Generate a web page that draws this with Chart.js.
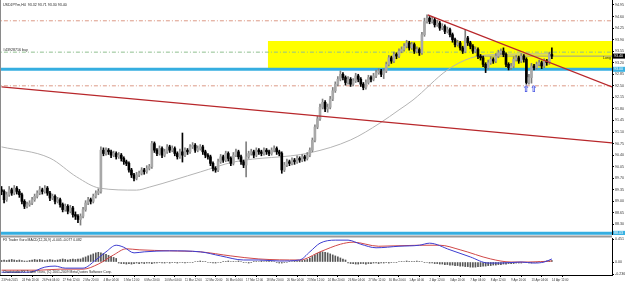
<!DOCTYPE html>
<html>
<head>
<meta charset="utf-8">
<title>USDJPYm,H4</title>
<script src="https://cdn.jsdelivr.net/npm/chart.js"></script>
<style>
  body { margin: 0; background: #fff; }
  #wrap { position: relative; width: 625px; height: 283px; overflow: hidden; }
  canvas { position: absolute; left: 0; }
  #priceChart { top: 0; }
  #macdChart { top: 235px; }
</style>
</head>
<body>
<div id="wrap">
  <canvas id="priceChart" width="625" height="235"></canvas>
  <canvas id="macdChart" width="625" height="48"></canvas>
</div>
<script>
// H4 bars, 23 Feb - 14 Apr
const opens = [
  89.35, 89.30, 89.05, 89.20, 89.35, 89.25, 89.40, 89.30, 89.20, 89.00,
  88.85, 88.90, 88.95, 89.05, 89.15, 89.25, 89.35, 89.30, 89.40, 89.25,
  89.10, 89.15, 89.00, 89.05, 88.90, 88.75, 88.85, 88.70, 88.80, 88.60,
  88.55, 88.45, 88.55, 88.75, 88.95, 89.05, 89.00, 89.15, 89.25, 89.30,
  90.55, 90.45, 90.55, 90.50, 90.40, 90.45, 90.35, 90.40, 90.30, 90.20,
  90.15, 89.95, 89.80, 89.70, 89.80, 89.85, 89.95, 89.90, 90.00, 90.05,
  90.75, 90.55, 90.45, 90.60, 90.40, 90.50, 90.65, 90.55, 90.60, 90.45,
  90.35, 90.50, 90.40, 90.55, 90.50, 90.65, 90.70, 90.55, 90.60, 90.65,
  90.50, 90.40, 90.35, 90.15, 90.00, 89.95, 90.20, 90.35, 90.25, 90.45,
  90.30, 90.15, 90.40, 90.50, 90.35, 90.20, 90.10, 90.35, 90.45, 90.50,
  90.40, 90.55, 90.50, 90.45, 90.55, 90.50, 90.45, 90.55, 90.60, 90.50,
  90.45, 89.95, 90.10, 90.20, 90.15, 90.25, 90.20, 90.30, 90.25, 90.35,
  90.30, 90.40, 90.55, 90.85, 91.25, 91.50, 91.85, 92.00, 91.80, 91.85,
  92.10, 92.35, 92.55, 92.70, 92.85, 92.75, 92.60, 92.70, 92.55, 92.65,
  92.80, 92.70, 92.55, 92.45, 92.60, 92.75, 92.70, 92.80, 92.90, 92.95,
  92.85, 92.95, 93.15, 93.35, 93.25, 93.45, 93.40, 93.55, 93.60, 93.70,
  93.80, 93.65, 93.75, 93.55, 93.60, 93.50, 94.05, 94.45, 94.55, 94.45,
  94.50, 94.35, 94.40, 94.25, 94.30, 94.15, 94.20, 94.05, 93.90, 93.75,
  93.80, 93.65, 93.55, 93.95, 93.80, 93.70, 93.55, 93.60, 93.40, 93.35,
  93.15, 93.05, 93.20, 93.30, 93.25, 93.40, 93.50, 93.55, 93.45, 93.15,
  93.05, 93.10, 93.30, 93.35, 93.25, 93.40, 93.30, 92.60, 92.75, 93.10,
  93.05, 93.15, 93.20, 93.10, 93.25, 93.20, 93.45
];
const highs = [
  89.45, 89.35, 89.28, 89.45, 89.40, 89.48, 89.45, 89.36, 89.25, 89.05,
  88.98, 89.02, 89.12, 89.22, 89.32, 89.45, 89.40, 89.48, 89.45, 89.30,
  89.22, 89.20, 89.12, 89.10, 88.95, 88.92, 88.90, 88.88, 88.85, 88.68,
  88.60, 88.62, 88.82, 89.02, 89.12, 89.10, 89.22, 89.32, 89.38, 90.65,
  90.62, 90.62, 90.60, 90.55, 90.52, 90.50, 90.48, 90.45, 90.35, 90.25,
  90.20, 90.00, 89.85, 89.88, 89.92, 90.02, 90.00, 90.08, 90.12, 90.82,
  90.80, 90.60, 90.68, 90.65, 90.58, 90.72, 90.70, 90.68, 90.65, 90.50,
  90.58, 91.07, 90.62, 90.60, 90.72, 90.78, 90.75, 90.68, 90.72, 90.70,
  90.55, 90.45, 90.40, 90.20, 90.05, 90.28, 90.42, 90.40, 90.52, 90.50,
  90.35, 90.48, 90.58, 90.55, 90.40, 90.25, 90.80, 90.52, 90.58, 90.55,
  90.62, 90.60, 90.55, 90.62, 90.60, 90.55, 90.62, 90.68, 90.65, 90.55,
  90.50, 90.18, 90.28, 90.25, 90.32, 90.30, 90.38, 90.35, 90.42, 90.40,
  90.48, 90.62, 90.92, 91.32, 91.58, 91.95, 92.10, 92.05, 91.95, 92.18,
  92.45, 92.62, 92.78, 92.95, 92.90, 92.80, 92.78, 92.75, 92.72, 92.88,
  92.85, 92.75, 92.60, 92.68, 92.82, 92.80, 92.88, 92.98, 93.02, 93.00,
  93.02, 93.22, 93.42, 93.40, 93.52, 93.50, 93.62, 93.68, 93.78, 93.88,
  93.85, 93.82, 93.80, 93.68, 93.65, 94.12, 94.55, 94.65, 94.60, 94.58,
  94.55, 94.48, 94.45, 94.38, 94.35, 94.28, 94.25, 94.10, 93.95, 93.88,
  93.85, 93.70, 94.20, 94.00, 93.85, 93.75, 93.68, 93.65, 93.45, 93.40,
  93.20, 93.28, 93.38, 93.35, 93.48, 93.58, 93.62, 93.65, 93.50, 93.20,
  93.18, 93.38, 93.42, 93.40, 93.48, 93.45, 93.35, 92.85, 93.18, 93.15,
  93.22, 93.28, 93.25, 93.32, 93.30, 93.52, 93.65
];
const lows = [
  89.20, 88.95, 89.00, 89.15, 89.18, 89.20, 89.22, 89.12, 88.92, 88.78,
  88.80, 88.85, 88.90, 89.00, 89.10, 89.20, 89.22, 89.25, 89.18, 89.02,
  89.05, 88.92, 88.95, 88.82, 88.68, 88.70, 88.62, 88.65, 88.52, 88.45,
  88.35, 88.28, 88.50, 88.70, 88.90, 88.92, 88.95, 89.10, 89.20, 89.25,
  90.38, 90.40, 90.42, 90.32, 90.35, 90.28, 90.30, 90.22, 90.12, 90.08,
  89.88, 89.72, 89.62, 89.65, 89.75, 89.80, 89.82, 89.85, 89.95, 90.00,
  90.48, 90.38, 90.40, 90.32, 90.35, 90.45, 90.48, 90.50, 90.38, 90.28,
  90.30, 90.19, 90.35, 90.42, 90.45, 90.60, 90.48, 90.50, 90.55, 90.42,
  90.32, 90.28, 90.08, 89.92, 89.88, 89.90, 90.15, 90.18, 90.20, 90.22,
  90.08, 90.10, 90.35, 90.28, 90.12, 90.02, 89.74, 90.30, 90.40, 90.32,
  90.35, 90.42, 90.38, 90.40, 90.42, 90.38, 90.40, 90.50, 90.42, 90.38,
  89.85, 89.90, 90.05, 90.08, 90.10, 90.12, 90.15, 90.18, 90.20, 90.22,
  90.25, 90.35, 90.50, 90.80, 91.20, 91.45, 91.80, 91.72, 91.70, 91.80,
  92.05, 92.30, 92.50, 92.65, 92.68, 92.52, 92.55, 92.48, 92.50, 92.60,
  92.62, 92.48, 92.38, 92.40, 92.55, 92.62, 92.65, 92.75, 92.85, 92.78,
  92.72, 92.90, 93.10, 93.18, 93.20, 93.32, 93.35, 93.50, 93.55, 93.65,
  93.58, 93.60, 93.48, 93.50, 93.42, 93.45, 94.00, 94.40, 94.38, 94.40,
  94.28, 94.30, 94.18, 94.20, 94.08, 94.10, 93.98, 93.82, 93.68, 93.70,
  93.58, 93.48, 93.50, 93.72, 93.62, 93.48, 93.50, 93.32, 93.28, 93.08,
  92.90, 93.00, 93.15, 93.18, 93.20, 93.35, 93.45, 93.38, 93.08, 92.98,
  93.00, 93.05, 93.25, 93.18, 93.20, 93.22, 92.55, 92.55, 92.58, 92.98,
  93.00, 93.10, 93.02, 93.05, 93.12, 93.15, 93.32
];
const closes = [
  89.30, 89.05, 89.20, 89.35, 89.25, 89.40, 89.30, 89.20, 89.00, 88.85,
  88.90, 88.95, 89.05, 89.15, 89.25, 89.35, 89.30, 89.40, 89.25, 89.10,
  89.15, 89.00, 89.05, 88.90, 88.75, 88.85, 88.70, 88.80, 88.60, 88.55,
  88.45, 88.55, 88.75, 88.95, 89.05, 89.00, 89.15, 89.25, 89.30, 90.55,
  90.45, 90.55, 90.50, 90.40, 90.45, 90.35, 90.40, 90.30, 90.20, 90.15,
  89.95, 89.80, 89.70, 89.80, 89.85, 89.95, 89.90, 90.00, 90.05, 90.75,
  90.55, 90.45, 90.60, 90.40, 90.50, 90.65, 90.55, 90.60, 90.45, 90.35,
  90.50, 90.40, 90.55, 90.50, 90.65, 90.70, 90.55, 90.60, 90.65, 90.50,
  90.40, 90.35, 90.15, 90.00, 89.95, 90.20, 90.35, 90.25, 90.45, 90.30,
  90.15, 90.40, 90.50, 90.35, 90.20, 90.10, 90.35, 90.45, 90.50, 90.40,
  90.55, 90.50, 90.45, 90.55, 90.50, 90.45, 90.55, 90.60, 90.50, 90.45,
  89.95, 90.10, 90.20, 90.15, 90.25, 90.20, 90.30, 90.25, 90.35, 90.30,
  90.40, 90.55, 90.85, 91.25, 91.50, 91.85, 92.00, 91.80, 91.85, 92.10,
  92.35, 92.55, 92.70, 92.85, 92.75, 92.60, 92.70, 92.55, 92.65, 92.80,
  92.70, 92.55, 92.45, 92.60, 92.75, 92.70, 92.80, 92.90, 92.95, 92.85,
  92.95, 93.15, 93.35, 93.25, 93.45, 93.40, 93.55, 93.60, 93.70, 93.80,
  93.65, 93.75, 93.55, 93.60, 93.50, 94.05, 94.45, 94.55, 94.45, 94.50,
  94.35, 94.40, 94.25, 94.30, 94.15, 94.20, 94.05, 93.90, 93.75, 93.80,
  93.65, 93.55, 93.95, 93.80, 93.70, 93.55, 93.60, 93.40, 93.35, 93.15,
  93.05, 93.20, 93.30, 93.25, 93.40, 93.50, 93.55, 93.45, 93.15, 93.05,
  93.10, 93.30, 93.35, 93.25, 93.40, 93.30, 92.60, 92.75, 93.10, 93.05,
  93.15, 93.20, 93.10, 93.25, 93.20, 93.45, 93.40
];

// moving average, read at a few bars
const maBars = [0, 19, 29.5, 38.5, 53, 58, 78, 91, 121, 137, 148.5, 156, 161.5, 175, 184, 192, 216];
const maVals = [90.65, 90.31, 89.74, 89.40, 89.34, 89.43, 89.89, 90.19, 90.47, 90.86, 91.37, 91.77, 92.07, 92.98, 93.34, 93.44, 93.47];

// drawn objects
const longTrendBars = [0, 239.6];
const longTrendVals = [92.465, 90.77];
const shortTrendBars = [167.3, 239.6];
const shortTrendVals = [94.65, 92.465];
const zoneStartBar = 104.5;
const zoneTop = 93.86;
const zoneBottom = 93.04;
const dashLevels = [94.47, 93.52, 92.50];
const dashColors = ['#dc9a86', '#8fbf8f', '#dc9a86'];
const cyanLevels = [93.00, 88.03];
const bidLevel = 93.40;
const arrowBars = [206, 209];
const arrowPrice = 92.38;

// MACD window
const macdBars = [0, 11, 17, 21, 25, 32, 37, 41, 45, 48, 52, 56, 66, 78, 86, 95, 101, 109, 117, 121,
  125, 131, 136, 141, 147, 156, 164, 168, 176, 184, 191, 196, 204, 209, 213, 216];
const macdVals = [-0.20, -0.20, -0.10, -0.08, -0.12, -0.12, 0.04, 0.20, 0.33, 0.29, 0.18, 0.20, 0.22, 0.20, 0.12, 0.04, 0.04, 0.02, 0.04, 0.20,
  0.37, 0.43, 0.43, 0.35, 0.28, 0.31, 0.33, 0.37, 0.24, 0.10, -0.02, -0.02, 0.00, -0.02, 0.00, 0.06];
const signalBars = [0, 15, 23, 32, 38, 44, 49, 54, 66, 78, 90, 101, 117, 125, 133, 138, 148, 164, 172, 180, 192, 200, 207, 216];
const signalVals = [-0.16, -0.16, -0.14, -0.14, -0.04, 0.14, 0.26, 0.24, 0.22, 0.20, 0.12, 0.06, 0.04, 0.20, 0.35, 0.39, 0.31, 0.33, 0.33, 0.24, 0.06, 0.00, 0.00, 0.02];
const hist = [
  0.03, 0.04, 0.03, 0.04, 0.05, 0.04, 0.03, 0.04, 0.03, 0.02, 0.02,
  0.03, 0.04, 0.05, 0.04, 0.05, 0.04, 0.03, 0.04, 0.05, 0.04, 0.03, 0.04, 0.05, 0.06, 0.05, 0.04, 0.05, 0.06, 0.05, 0.06,
  0.06, 0.08, 0.10, 0.12, 0.14, 0.16, 0.18, 0.19, 0.18, 0.17, 0.15, 0.13, 0.11, 0.09, 0.07,
  -0.02, -0.03, -0.03, -0.04, -0.03, -0.04, -0.03, -0.02, -0.03, -0.02, -0.03, -0.02, -0.02, -0.03, -0.02,
  -0.02, -0.01, -0.02, -0.02, -0.01, -0.02, -0.01, -0.01, -0.02, -0.01, -0.01, -0.02, -0.01, -0.01, -0.01,
  0.01, 0.01, 0.02, 0.01, 0.01, -0.01, -0.01, -0.02, -0.02, -0.01, -0.01, 0.01, 0.01, 0.02, 0.01,
  0.01, 0.01, 0.02, 0.01, -0.01, -0.01, -0.02, -0.01, 0.01, 0.01, 0.01, 0.02, 0.01, 0.01, 0.02,
  0.01, 0.01, -0.01, -0.02, -0.02, -0.01, -0.01, 0.01, 0.01, 0.02, 0.02, 0.03, 0.03, 0.04, 0.05,
  0.08, 0.11, 0.14, 0.17, 0.19, 0.20, 0.19, 0.18, 0.16, 0.14, 0.12, 0.10, 0.08, 0.06, 0.04,
  -0.02, -0.03, -0.03, -0.04, -0.04, -0.03, -0.03, -0.04, -0.03, -0.03, -0.02, -0.02, -0.03, -0.02, -0.02, -0.01, -0.02, -0.01, -0.01, -0.01,
  0.01, 0.01, 0.01, 0.02, 0.01, 0.01, 0.01, 0.02, 0.01, 0.01, -0.01, -0.01, -0.02, -0.02, -0.03,
  -0.03, -0.04, -0.04, -0.05, -0.05, -0.06, -0.06, -0.07, -0.07, -0.08, -0.08, -0.09, -0.09, -0.10, -0.10,
  -0.10, -0.09, -0.09, -0.08, -0.08, -0.07, -0.07, -0.06, -0.06, -0.05, -0.05, -0.04, -0.04, -0.03, -0.03,
  -0.03, -0.02, -0.02, -0.02, -0.01, -0.01, -0.02, -0.02, -0.01, -0.01, 0.01, 0.01, 0.01, 0.02, 0.02, 0.03
];

// axes
const priceTicks = [88.30, 88.65, 89.00, 89.35, 89.70, 90.05, 90.40, 90.75, 91.10, 91.45,
  91.80, 92.15, 92.50, 92.85, 93.20, 93.55, 93.90, 94.25, 94.60, 94.95];
const macdTicks = [0.451, 0, -0.236];
const macdTickLabels = ['0.451', '0.00', '-0.236'];
const labelBars = [0, 8, 16, 24, 32, 40, 48, 56, 64, 72, 80, 88, 96, 104, 112, 120, 128, 136, 144, 152,
  160, 168, 176, 184, 192, 200, 208, 216];
const timeLabels = ['23 Feb 2015', '24 Feb 20:00', '26 Feb 04:00', '27 Feb 12:00', '2 Mar 20:00', '4 Mar 04:00',
  '5 Mar 12:00', '6 Mar 20:00', '10 Mar 04:00', '11 Mar 12:00', '12 Mar 20:00', '16 Mar 04:00', '17 Mar 12:00',
  '18 Mar 20:00', '20 Mar 04:00', '23 Mar 12:00', '24 Mar 20:00', '26 Mar 04:00', '27 Mar 12:00', '30 Mar 20:00',
  '1 Apr 04:00', '2 Apr 12:00', '3 Apr 20:00', '7 Apr 04:00', '8 Apr 12:00', '9 Apr 20:00', '13 Apr 04:00', '14 Apr 12:00'];

const titleText = 'USDJPYm,H4  93.32 93.71 93.30 93.40';
const orderText = '#43928716 buy';
const macdTitle = 'FX Trader Guru MACD(12,26,9) -0.005 -0.077 0.082';
const copyText = 'Chartstudio FX Trader Guru, (C) 2001-2009 MetaQuotes Software Corp.';

const xMin = -0.6, xMax = 239.6;
const FONT = 'Liberation Sans';
const tiny = { size: 3.6, family: FONT };
const tinier = { size: 2.9, family: FONT };

const isUp = i => closes[i] >= opens[i];
const pts = (xs, ys) => xs.map((x, k) => ({ x: x, y: ys[k] }));
const hline = (v, from) => [{ x: from, y: v }, { x: xMax + 2, y: v }];
const plain = { pointRadius: 0, fill: false };

function axisWidth(scale) {
  scale.width = 13;
  scale.paddingTop = 0;
  scale.paddingBottom = 0;
}

const priceDecor = {
  id: 'priceDecor',
  afterDraw(chart) {
    const ctx = chart.ctx, y = chart.scales.y, x = chart.scales.x;
    ctx.save();
    ctx.fillStyle = '#8a8a8a';
    ctx.fillRect(0, 0, 1, chart.height);
    ctx.font = '3.6px "' + FONT + '"';
    ctx.textBaseline = 'middle';
    ctx.fillStyle = '#222';
    ctx.fillText(titleText, 3, 5);
    ctx.fillText(orderText, 3, y.getPixelForValue(dashLevels[1]) - 2.5);
    ctx.textAlign = 'right';
    ctx.fillText('Long', 611, y.getPixelForValue(bidLevel) + 2);
    // price boxes on the axis
    const boxes = [[bidLevel, '#000', '#fff'], [cyanLevels[0], '#3ab2e2', '#fff'], [cyanLevels[1], '#3ab2e2', '#fff']];
    ctx.textAlign = 'left';
    boxes.forEach(b => {
      const py = y.getPixelForValue(b[0]);
      ctx.fillStyle = b[1];
      ctx.fillRect(613, py - 2.5, 12, 5);
      ctx.fillStyle = b[2];
      ctx.fillText(b[0].toFixed(2), 614, py);
    });
    // signal arrows
    ctx.fillStyle = '#2233dd';
    ctx.font = 'bold 9px "DejaVu Sans"';
    ctx.textAlign = 'center';
    arrowBars.forEach(b => ctx.fillText('\u21E7', x.getPixelForValue(b), y.getPixelForValue(arrowPrice)));
    ctx.restore();
  }
};

new Chart(document.getElementById('priceChart'), {
  type: 'line',
  data: {
    datasets: [
      { data: hline(zoneTop, zoneStartBar), borderWidth: 0, pointRadius: 0,
        backgroundColor: '#ffff00', fill: { value: zoneBottom }, order: 20 },
      ...dashLevels.map((v, k) => Object.assign({ data: hline(v, xMin - 2), borderColor: dashColors[k],
        borderWidth: 1, borderDash: [4, 2, 1, 2], order: 15 }, plain)),
      ...cyanLevels.map(v => Object.assign({ data: hline(v, xMin - 2), borderColor: '#35aee0',
        borderWidth: 3, order: 14 }, plain)),
      Object.assign({ data: hline(bidLevel, 186), borderColor: '#9a9a9a', borderWidth: 1, order: 13 }, plain),
      Object.assign({ data: pts(maBars, maVals), borderColor: '#b4b4b4', borderWidth: 1,
        cubicInterpolationMode: 'monotone', order: 12 }, plain),
      { type: 'bar', grouped: false, barThickness: 1, order: 4,
        data: closes.map((c, i) => ({ x: i, y: [lows[i], highs[i]] })),
        backgroundColor: ctx => isUp(ctx.dataIndex) ? '#808080' : '#000' },
      { type: 'bar', grouped: false, barThickness: 2, minBarLength: 1, order: 3,
        data: closes.map((c, i) => ({ x: i, y: [opens[i], c] })),
        backgroundColor: ctx => isUp(ctx.dataIndex) ? '#a8a8a8' : '#000' },
      Object.assign({ data: pts(longTrendBars, longTrendVals), borderColor: '#b8272b', borderWidth: 1.2, order: 1 }, plain),
      Object.assign({ data: pts(shortTrendBars, shortTrendVals), borderColor: '#b8272b', borderWidth: 1.2, order: 1 }, plain)
    ]
  },
  options: {
    responsive: false,
    animation: false,
    devicePixelRatio: 1,
    events: [],
    layout: { padding: 0 },
    plugins: { legend: { display: false }, tooltip: { enabled: false } },
    scales: {
      x: { type: 'linear', display: false, min: xMin, max: xMax, offset: false },
      y: {
        position: 'right', min: 87.98, max: 95.10,
        afterFit: axisWidth,
        afterBuildTicks: s => { s.ticks = priceTicks.map(v => ({ value: v })); },
        ticks: { font: tiny, color: '#333', padding: 1, autoSkip: false, callback: v => v.toFixed(2) },
        grid: { drawOnChartArea: false, tickLength: 2, color: '#000' },
        border: { display: true, color: '#000' }
      }
    }
  },
  plugins: [priceDecor]
});

const macdDecor = {
  id: 'macdDecor',
  afterDraw(chart) {
    const ctx = chart.ctx, a = chart.chartArea;
    ctx.save();
    ctx.fillStyle = '#9a9a9a';
    ctx.fillRect(0, 0.5, a.right, 2);
    ctx.fillStyle = '#8a8a8a';
    ctx.fillRect(0, 0, 1, a.bottom);
    ctx.font = '3.4px "' + FONT + '"';
    ctx.textBaseline = 'middle';
    ctx.fillStyle = '#222';
    ctx.fillText(macdTitle, 3, 5.5);
    ctx.fillText(copyText, 3, a.bottom - 2.5);
    ctx.restore();
  }
};

new Chart(document.getElementById('macdChart'), {
  type: 'line',
  data: {
    datasets: [
      { type: 'bar', grouped: false, barThickness: 1, order: 3,
        data: hist.map((v, i) => ({ x: i, y: v })), backgroundColor: '#555' },
      Object.assign({ data: pts(macdBars, macdVals), borderColor: '#3d3dd0', borderWidth: 1,
        cubicInterpolationMode: 'monotone', order: 1 }, plain),
      Object.assign({ data: pts(signalBars, signalVals), borderColor: '#d04848', borderWidth: 1,
        cubicInterpolationMode: 'monotone', order: 2 }, plain)
    ]
  },
  options: {
    responsive: false,
    animation: false,
    devicePixelRatio: 1,
    events: [],
    layout: { padding: { top: 3, left: 0, right: 0, bottom: 0 } },
    plugins: { legend: { display: false }, tooltip: { enabled: false } },
    scales: {
      x: {
        type: 'linear', min: xMin, max: xMax, offset: false,
        afterFit: s => { s.height = 8; s.paddingLeft = 0; s.paddingRight = 0; },
        afterBuildTicks: s => { s.ticks = labelBars.map(v => ({ value: v })); },
        ticks: { font: tinier, color: '#333', padding: 1, autoSkip: false, maxRotation: 0, align: 'start',
          callback: (v, i) => timeLabels[i] },
        grid: { drawOnChartArea: false, tickLength: 2, color: '#000' },
        border: { display: true, color: '#000' }
      },
      y: {
        position: 'right', min: -0.255, max: 0.472,
        afterFit: axisWidth,
        afterBuildTicks: s => { s.ticks = macdTicks.map(v => ({ value: v })); },
        ticks: { font: tiny, color: '#333', padding: 1, autoSkip: false, callback: (v, i) => macdTickLabels[i] },
        grid: { drawOnChartArea: false, tickLength: 2, color: '#000' },
        border: { display: true, color: '#000' }
      }
    }
  },
  plugins: [macdDecor]
});
</script>
</body>
</html>
